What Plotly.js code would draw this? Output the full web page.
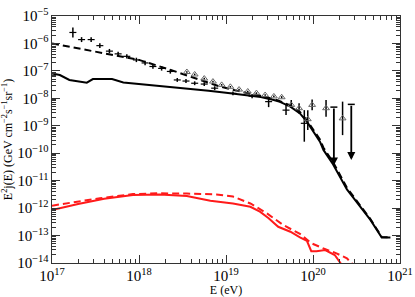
<!DOCTYPE html>
<html>
<head>
<meta charset="utf-8">
<script src="https://cdn.plot.ly/plotly-3.0.1.min.js"></script>
<style>html,body{margin:0;padding:0;background:#fff;}#chart{width:415px;height:297px;}</style>
</head>
<body>
<div id="chart"></div>
<script>
// ---- data (log10 E [eV], log10 E^2 j [GeV cm^-2 s^-1 sr^-1]) ----
const blackSolidLogE = [17.0, 17.09, 17.2, 17.4, 17.47, 17.69, 17.82, 18.01, 18.2, 18.4, 18.6, 18.8, 19.0, 19.2, 19.4, 19.55, 19.62, 19.74, 19.85, 19.93, 20.0, 20.08, 20.12, 20.23, 20.39, 20.54, 20.66, 20.79, 20.89];
const blackSolidLogJ = [-7.09, -7.15, -7.33, -7.43, -7.30, -7.30, -7.42, -7.48, -7.53, -7.58, -7.65, -7.72, -7.80, -7.87, -7.95, -8.06, -8.13, -8.30, -8.55, -8.85, -9.20, -9.58, -9.88, -10.40, -11.32, -11.95, -12.43, -13.07, -13.07];

const blackDashLogE = [17.0, 17.5, 18.0, 18.35, 18.55, 18.75, 18.93, 19.12, 19.31, 19.47, 19.6, 19.74, 19.85, 19.93, 20.0, 20.08, 20.12, 20.23, 20.39, 20.54, 20.66, 20.79, 20.89];
const blackDashLogJ = [-6.00, -6.29, -6.60, -6.95, -7.17, -7.38, -7.57, -7.72, -7.84, -7.96, -8.08, -8.26, -8.50, -8.80, -9.13, -9.50, -9.80, -10.32, -11.26, -11.90, -12.40, -13.05, -13.07];

const redSolidLogE = [17.0, 17.3, 17.6, 17.93, 18.24, 18.55, 18.82, 19.08, 19.28, 19.39, 19.49, 19.60, 19.74, 19.85, 19.93, 19.98, 20.04, 20.14, 20.25, 20.31, 20.36];
const redSolidLogJ = [-12.07, -11.85, -11.66, -11.52, -11.50, -11.56, -11.73, -11.83, -11.95, -12.13, -12.37, -12.68, -12.86, -13.07, -13.19, -13.57, -13.57, -13.53, -13.71, -14.01, -14.2];

const redDashLogE = [17.0, 17.55, 17.93, 18.24, 18.55, 18.89, 19.08, 19.28, 19.47, 19.66, 19.85, 19.98, 20.12, 20.27, 20.39, 20.44, 20.5];
const redDashLogJ = [-11.91, -11.64, -11.49, -11.46, -11.47, -11.50, -11.58, -11.83, -12.19, -12.62, -12.94, -13.28, -13.47, -13.65, -13.83, -14.0, -14.15];

// crosses, low-energy set
const crossALogE = [17.24, 17.34, 17.45, 17.55, 17.66, 17.76, 17.86, 17.97, 18.07, 18.16, 18.26, 18.36];
const crossALogJ = [-5.60, -5.86, -5.86, -6.08, -6.28, -6.38, -6.47, -6.60, -6.71, -6.84, -6.91, -7.02];
const crossAHi   = [-5.42, -5.77, -5.77, -5.99, -6.20, -6.30, -6.39, -6.52, -6.63, -6.76, -6.83, -6.94];
const crossALo   = [-5.78, -5.95, -5.95, -6.17, -6.36, -6.46, -6.55, -6.68, -6.79, -6.92, -6.99, -7.10];

// crosses, high-energy set
const crossBLogE = [18.44, 18.54, 18.64, 18.75, 18.87, 19.08, 19.30, 19.49, 19.69, 19.90];
const crossBLogJ = [-7.33, -7.37, -7.45, -7.48, -7.63, -7.82, -7.92, -8.12, -8.43, -8.91];
const crossBHi   = [-7.26, -7.30, -7.38, -7.41, -7.56, -7.75, -7.84, -7.95, -8.24, -8.43];
const crossBLo   = [-7.40, -7.44, -7.52, -7.55, -7.70, -7.89, -8.00, -8.32, -8.61, -9.58];

// open triangles
const triLogE = [18.55, 18.64, 18.75, 18.85, 18.95, 19.05, 19.15, 19.25, 19.35, 19.45, 19.55, 19.64, 19.75, 19.84, 19.94, 19.99, 20.15, 20.34];
const triLogJ = [-7.04, -7.13, -7.28, -7.39, -7.51, -7.58, -7.68, -7.75, -7.81, -7.88, -7.93, -7.96, -8.24, -8.36, -8.76, -8.24, -8.36, -8.73];
const triHi   = [-7.01, -7.10, -7.25, -7.36, -7.48, -7.55, -7.65, -7.72, -7.78, -7.85, -7.90, -7.92, -8.06, -8.18, -8.43, -8.04, -8.06, -8.12];
const triLo   = [-7.07, -7.16, -7.31, -7.42, -7.54, -7.61, -7.71, -7.78, -7.84, -7.91, -7.96, -8.00, -8.35, -8.55, -9.15, -8.43, -8.67, -9.34];

// upper limits
const ulLogE   = [20.24, 20.44];
const ulTop    = [-8.32, -8.22];
const ulBottom = [-10.45, -10.25];

// ---- build ----
const p = v => Math.pow(10, v);
const P = a => a.map(p);
function errs(v, hi, lo) {
  return {type: 'data', symmetric: false,
    array: v.map((y, i) => p(hi[i]) - p(y)),
    arrayminus: v.map((y, i) => p(y) - p(lo[i])),
    thickness: 1.5, width: 0, color: '#000'};
}

const traces = [
  {x: P(blackSolidLogE), y: P(blackSolidLogJ), mode: 'lines', line: {color: '#000', width: 2}},
  {x: P(blackDashLogE), y: P(blackDashLogJ), mode: 'lines', line: {color: '#000', width: 2, dash: '7px,4px'}},
  {x: P(redSolidLogE), y: P(redSolidLogJ), mode: 'lines', line: {color: '#ff1a1a', width: 2}},
  {x: P(redDashLogE), y: P(redDashLogJ), mode: 'lines', line: {color: '#ff1a1a', width: 2, dash: '7px,4px'}},
  {x: P(crossALogE), y: P(crossALogJ), mode: 'markers', error_y: errs(crossALogJ, crossAHi, crossALo),
   marker: {symbol: 'line-ew', size: 5, color: '#000', line: {color: '#000', width: 1.2}}},
  {x: P(crossBLogE), y: P(crossBLogJ), mode: 'markers', error_y: errs(crossBLogJ, crossBHi, crossBLo),
   marker: {symbol: 'line-ew', size: 5, color: '#000', line: {color: '#000', width: 1.2}}},
  {x: P(triLogE), y: P(triLogJ), mode: 'markers', error_y: errs(triLogJ, triHi, triLo),
   marker: {symbol: 'triangle-up-open', size: 6, color: '#666', line: {color: '#666', width: 1}}},
  {x: P(ulLogE), y: P(ulTop), mode: 'markers',
   marker: {symbol: 'line-ew', size: 5, color: '#000', line: {color: '#000', width: 1.5}}}
];

const annotations = ulLogE.map((e, i) => ({
  x: e, y: ulBottom[i], ax: e, ay: ulTop[i], xref: 'x', yref: 'y', axref: 'x', ayref: 'y',
  text: '', showarrow: true, arrowhead: 2, arrowsize: 0.9, arrowwidth: 1.8, arrowcolor: '#000'
}));

const fontFam = '"Liberation Serif", "DejaVu Serif", serif';
const axisCommon = {
  type: 'log', showgrid: false, zeroline: false, showline: true, linecolor: '#333', linewidth: 1,
  mirror: 'ticks', ticks: 'inside', ticklen: 8, tickwidth: 1, tickcolor: '#333',
  dtick: 1, exponentformat: 'power',
  minor: {ticks: 'inside', ticklen: 4, tickwidth: 1, tickcolor: '#333', dtick: 'D1', showgrid: false},
  tickfont: {family: fontFam, size: 12, color: '#000'}
};

const layout = {
  width: 415, height: 297,
  margin: {l: 52, r: 15, t: 16, b: 34},
  paper_bgcolor: '#fff', plot_bgcolor: '#fff',
  showlegend: false,
  font: {family: fontFam, color: '#000'},
  xaxis: Object.assign({}, axisCommon, {
    range: [17, 21],
    title: {text: 'E (eV)', font: {family: fontFam, size: 12}, standoff: 2}
  }),
  yaxis: Object.assign({}, axisCommon, {
    range: [-14, -5],
    title: {text: 'E<sup>2</sup>j(E) (GeV cm<sup>−2</sup>s<sup>−1</sup>sr<sup>−1</sup>)', font: {family: fontFam, size: 12}, standoff: 4}
  }),
  annotations: annotations
};

Plotly.newPlot('chart', traces, layout, {displayModeBar: false, staticPlot: true});
</script>
</body>
</html>
